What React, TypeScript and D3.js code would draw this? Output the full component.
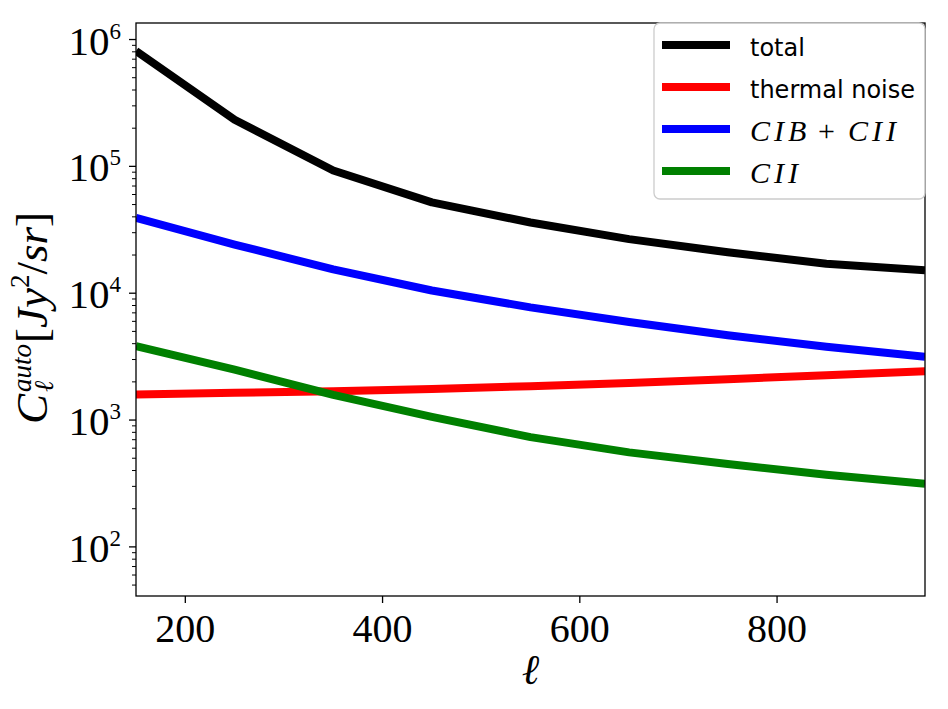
import React from "react";
import * as d3 from "d3";

// multipole values
const ell = [150, 250, 350, 450, 550, 650, 750, 850, 950];

// power spectra, Jy^2/sr
const total = [8.13e5, 2.33e5, 9.27e4, 5.2e4, 3.61e4, 2.67e4, 2.1e4, 1.71e4, 1.52e4];
const thermalNoise = [1.59e3, 1.64e3, 1.69e3, 1.76e3, 1.85e3, 1.96e3, 2.1e3, 2.26e3, 2.43e3];
const cibCii = [3.92e4, 2.42e4, 1.54e4, 1.05e4, 7.73e3, 5.93e3, 4.66e3, 3.78e3, 3.15e3];
const cii = [3.83e3, 2.5e3, 1.58e3, 1.06e3, 733, 556, 450, 370, 315];

const xTicks = [200, 400, 600, 800];
const yTickExps = [2, 3, 4, 5, 6];

const series = [
  { label: "total", values: total, color: "#000000", math: false },
  { label: "thermal noise", values: thermalNoise, color: "#ff0000", math: false },
  { label: "CIB + CII", values: cibCii, color: "#0000ff", math: true },
  { label: "CII", values: cii, color: "#008000", math: true },
];

const W = 948;
const H = 709;
const left = 136;
const right = 925;
const top = 23;
const bottom = 596;

const App = () => {
  const x = d3.scaleLinear().domain([150, 950]).range([left, right]);
  const y = d3.scaleLog().domain([41, 1.35e6]).range([bottom, top]);

  const line = d3
    .line<[number, number]>()
    .x((d) => x(d[0]))
    .y((d) => y(d[1]));

  // minor log ticks inside the y range
  const minor: number[] = [];
  for (let e = 1; e <= 6; e++) {
    for (let m = 2; m <= 9; m++) {
      const v = m * Math.pow(10, e);
      if (v >= 41 && v <= 1.35e6) minor.push(v);
    }
  }

  const serif = "'Liberation Serif', 'DejaVu Serif', serif";
  const sans = "'DejaVu Sans', sans-serif";

  return (
    <svg
      width={W}
      height={H}
      style={{ position: "absolute", left: 0, top: 0, background: "#fff" }}
    >
      <rect width={W} height={H} fill="#fff" />

      <defs>
        <clipPath id="plot">
          <rect x={left} y={top} width={right - left} height={bottom - top} />
        </clipPath>
      </defs>

      {/* curves */}
      <g clipPath="url(#plot)">
        {series.map((s) => (
          <path
            key={s.label}
            d={line(ell.map((l, i) => [l, s.values[i]] as [number, number])) || ""}
            fill="none"
            stroke={s.color}
            strokeWidth={8}
            strokeLinejoin="round"
          />
        ))}
      </g>

      {/* frame */}
      <rect
        x={left}
        y={top}
        width={right - left}
        height={bottom - top}
        fill="none"
        stroke="#000"
        strokeWidth={1.3}
      />

      {/* x ticks */}
      {xTicks.map((t) => (
        <g key={t}>
          <line x1={x(t)} x2={x(t)} y1={bottom} y2={bottom + 7} stroke="#000" strokeWidth={1.3} />
          <text x={x(t)} y={bottom + 46} textAnchor="middle" fontFamily={serif} fontSize={40}>
            {t}
          </text>
        </g>
      ))}

      {/* y ticks */}
      {minor.map((v) => (
        <line key={v} x1={left} x2={left - 4} y1={y(v)} y2={y(v)} stroke="#000" strokeWidth={1} />
      ))}
      {yTickExps.map((e) => {
        const yy = y(Math.pow(10, e));
        return (
          <g key={e}>
            <line x1={left} x2={left - 7} y1={yy} y2={yy} stroke="#000" strokeWidth={1.3} />
            <text x={121} y={yy + 15} textAnchor="end" fontFamily={serif} fontSize={41}>
              10
              <tspan fontSize={23} dy={-16}>
                {e}
              </tspan>
            </text>
          </g>
        );
      })}

      {/* x label */}
      <text
        x={(left + right) / 2}
        y={684}
        textAnchor="middle"
        fontFamily={serif}
        fontStyle="italic"
        fontSize={42}
      >
        ℓ
      </text>

      {/* y label */}
      <g transform={`translate(0, 310) rotate(-90)`}>
        <text x={-114} y={47} fontFamily={serif} fontSize={45}>
          <tspan fontStyle="italic">C</tspan>
          <tspan fontStyle="italic" fontSize={27} dy={-16} dx={2}>
            auto
          </tspan>
          <tspan dy={16} dx={1}>[</tspan>
          <tspan fontStyle="italic">Jy</tspan>
          <tspan fontSize={27} dy={-18}>2</tspan>
          <tspan dy={18}>/</tspan>
          <tspan fontStyle="italic">sr</tspan>
          <tspan>]</tspan>
        </text>
        <text x={-82} y={53} fontFamily={serif} fontStyle="italic" fontSize={27}>
          ℓ
        </text>
      </g>

      {/* legend */}
      <g>
        <rect
          x={654}
          y={top}
          width={271}
          height={176}
          rx={6}
          fill="#fff"
          fillOpacity={0.8}
          stroke="#cccccc"
          strokeWidth={1.3}
        />
        {series.map((s, i) => {
          const ly = 45 + i * 42;
          const parts = s.label.split(" + ");
          return (
            <g key={s.label}>
              <line x1={662} x2={730} y1={ly} y2={ly} stroke={s.color} strokeWidth={8} />
              {s.math ? (
                <text y={ly + 12} fontFamily={serif} fontSize={30}>
                  <tspan x={750} fontStyle="italic" letterSpacing={4}>
                    {parts[0]}
                  </tspan>
                  {parts.length > 1 && (
                    <>
                      <tspan x={818}>+</tspan>
                      <tspan x={848} fontStyle="italic" letterSpacing={4}>
                        {parts[1]}
                      </tspan>
                    </>
                  )}
                </text>
              ) : (
                <text x={750} y={ly + 11} fontFamily={sans} fontSize={24}>
                  {s.label}
                </text>
              )}
            </g>
          );
        })}
      </g>
    </svg>
  );
};

export default App;
